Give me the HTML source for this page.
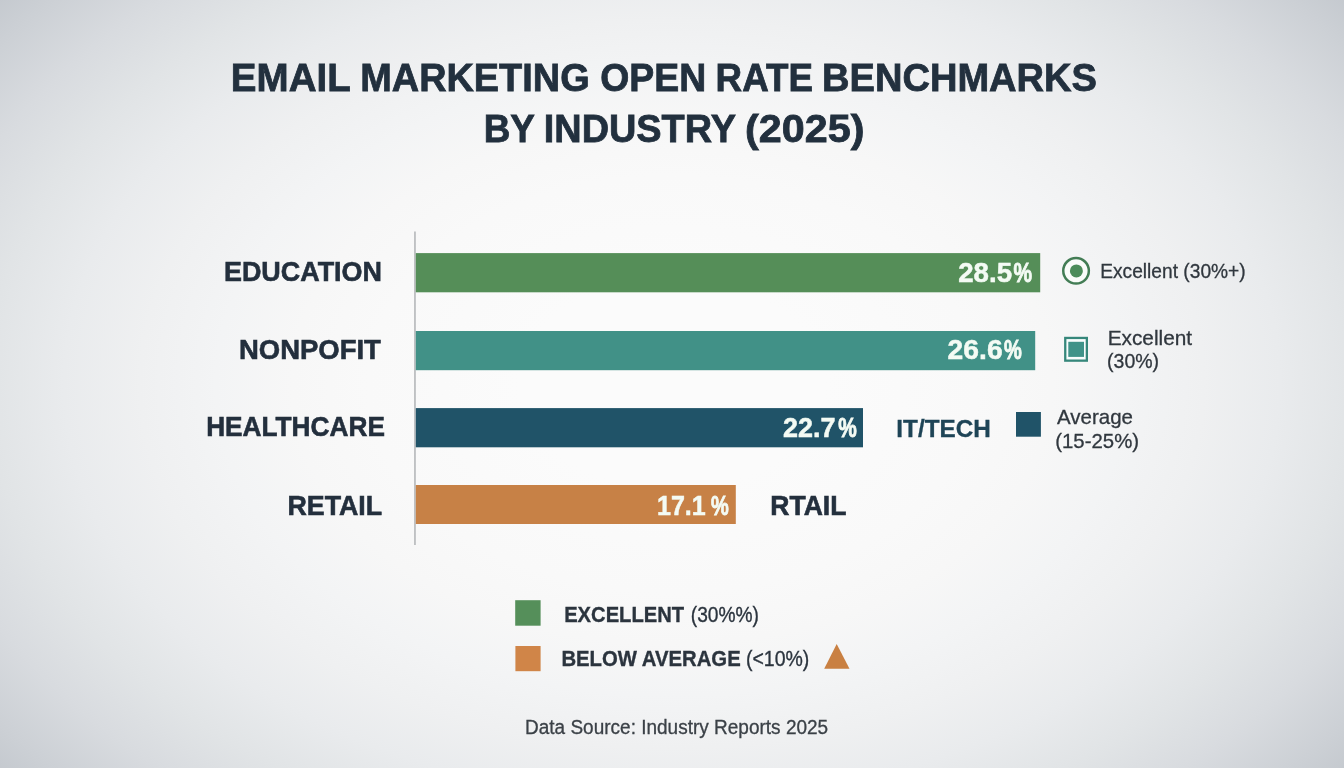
<!DOCTYPE html>
<html lang="en">
<head>
<meta charset="utf-8">
<title>Email Marketing Open Rate Benchmarks by Industry (2025)</title>
<style>
  html, body { margin: 0; padding: 0; }
  body {
    width: 1344px; height: 768px; overflow: hidden; position: relative;
    font-family: "Liberation Sans", sans-serif;
    background: #f4f5f6;
  }
  #bg {
    position: absolute; left: 0; top: 0; width: 1344px; height: 768px;
    background:
      radial-gradient(ellipse 760px 520px at 50% 50%, rgb(251,251,251) 0%, rgb(251,251,251) 20%, rgb(250,250,250) 30%, rgb(249,249,249) 40%, rgb(247,247,247) 50%, rgb(243,244,245) 60%, rgb(239,240,241) 70%, rgb(233,235,237) 80%, rgb(225,228,230) 90%, rgb(216,219,223) 100%, rgb(204,208,213) 110%, rgb(191,196,202) 120%, rgb(174,180,189) 130%, rgb(155,163,173) 140%);
  }
  svg { position: absolute; left: 0; top: 0; will-change: transform; filter: blur(0.35px); }
  text { font-family: "Liberation Sans", sans-serif; }
  .b { font-weight: bold; }
</style>
</head>
<body>
<div id="bg"></div>


<svg width="1344" height="768" viewBox="0 0 1344 768">
  <!-- Axis + bars -->
  <rect x="414.1" y="231.5" width="1.7" height="313.5" fill="#b9bbbd"/>
  <rect x="415.8" y="253.1" width="624.4" height="39.2" fill="#558e58"/>
  <rect x="415.8" y="331" width="619.4" height="39.2" fill="#419187"/>
  <rect x="415.8" y="408.1" width="447.2" height="39.2" fill="#205368"/>
  <rect x="415.8" y="485" width="320" height="39" fill="#c78146"/>

  <!-- Title -->
  <g class="b" fill="#22303e" stroke="#22303e" stroke-width="0.8" font-size="39.5">
    <text x="230.87" y="90.7" textLength="119.93" lengthAdjust="spacingAndGlyphs">EMAIL</text>
    <text x="360.25" y="90.7" textLength="229.35" lengthAdjust="spacingAndGlyphs">MARKETING</text>
    <text x="600.26" y="90.7" textLength="105.94" lengthAdjust="spacingAndGlyphs">OPEN</text>
    <text x="715.62" y="90.7" textLength="97.37" lengthAdjust="spacingAndGlyphs">RATE</text>
    <text x="822.05" y="90.7" textLength="274.94" lengthAdjust="spacingAndGlyphs">BENCHMARKS</text>
    <text x="483.68" y="141.5" textLength="51.22" lengthAdjust="spacingAndGlyphs">BY</text>
    <text x="543.77" y="141.5" textLength="192.13" lengthAdjust="spacingAndGlyphs">INDUSTRY</text>
    <text x="745.06" y="141.5" textLength="119.37" lengthAdjust="spacingAndGlyphs">(2025)</text>
  </g>

  <!-- Category labels -->
  <g class="b" fill="#232f3d" stroke="#232f3d" stroke-width="0.6" font-size="28.3">
    <text x="223.97" y="281.2" textLength="157.96" lengthAdjust="spacingAndGlyphs">EDUCATION</text>
    <text x="238.98" y="358.5" textLength="141.87" lengthAdjust="spacingAndGlyphs">NONPOFIT</text>
    <text x="206.13" y="436.4" textLength="178.78" lengthAdjust="spacingAndGlyphs">HEALTHCARE</text>
    <text x="287.47" y="515.1" textLength="94.69" lengthAdjust="spacingAndGlyphs">RETAIL</text>
  </g>

  <!-- Values in bars -->
  <g class="b" fill="#f4fbf4" stroke="#f4fbf4" stroke-width="0.5" font-size="27">
    <text x="958.20" y="281.5" textLength="53.86" lengthAdjust="spacingAndGlyphs">28.5</text>
    <text x="1013.44" y="281.5" textLength="18.51" lengthAdjust="spacingAndGlyphs" stroke-width="0.9">%</text>
    <text x="947.64" y="358.9" textLength="55.00" lengthAdjust="spacingAndGlyphs">26.6</text>
    <text x="1004.04" y="358.9" textLength="17.80" lengthAdjust="spacingAndGlyphs" stroke-width="0.9">%</text>
    <text x="783.03" y="437.1" textLength="52.52" lengthAdjust="spacingAndGlyphs">22.7</text>
    <text x="838.23" y="437.1" textLength="18.53" lengthAdjust="spacingAndGlyphs" stroke-width="0.9">%</text>
    <text x="656.96" y="514.8" textLength="48.83" lengthAdjust="spacingAndGlyphs">17.1</text>
    <text x="710.91" y="514.8" textLength="17.75" lengthAdjust="spacingAndGlyphs" stroke-width="0.9">%</text>
  </g>

  <!-- Stray labels -->
  <text class="b" fill="#1e4456" stroke="#1e4456" stroke-width="0.3" font-size="23.6" x="896.35" y="436.5" textLength="94.51" lengthAdjust="spacingAndGlyphs">IT/TECH</text>
  <text class="b" fill="#232f3d" stroke="#232f3d" stroke-width="0.6" font-size="27.4" x="770.30" y="515" textLength="76.17" lengthAdjust="spacingAndGlyphs">RTAIL</text>

  <!-- Right-hand legend icons -->
  <circle cx="1076.05" cy="270.8" r="12.8" fill="#fafcfa" stroke="#437d55" stroke-width="2.5"/>
  <circle cx="1076.4" cy="270.9" r="6.5" fill="#4c8c5a"/>
  <rect x="1065.25" y="337.95" width="21.6" height="22.7" fill="#f8fdfd" stroke="#36877b" stroke-width="2.3"/>
  <rect x="1068.3" y="341.8" width="15.7" height="15.1" fill="#3f9389"/>
  <rect x="1016" y="412" width="24.9" height="24.7" fill="#205368"/>

  <!-- Right-hand legend text -->
  <g fill="#30373e" stroke="#30373e" stroke-width="0.3" font-size="20.4">
    <text x="1100.22" y="277.8" textLength="145.45" lengthAdjust="spacingAndGlyphs">Excellent (30%+)</text>
    <text x="1107.67" y="344.5" textLength="84.44" lengthAdjust="spacingAndGlyphs">Excellent</text>
    <text x="1107.10" y="368.3" textLength="52.01" lengthAdjust="spacingAndGlyphs">(30%)</text>
    <text x="1057.05" y="424" textLength="75.86" lengthAdjust="spacingAndGlyphs">Average</text>
    <text x="1055.27" y="447.8" textLength="83.76" lengthAdjust="spacingAndGlyphs">(15-25%)</text>
  </g>

  <!-- Bottom legend -->
  <rect x="515.2" y="600.2" width="25.4" height="25.5" fill="#558f5a"/>
  <rect x="515.4" y="646" width="25.2" height="25.2" fill="#d08548"/>
  <polygon points="836.7,643.9 849.5,668.8 824.2,668.8" fill="#c98042"/>
  <g fill="#2b343e" stroke="#2b343e" stroke-width="0.35" font-size="22.4">
    <text x="564.18" y="621.6"><tspan class="b" textLength="119.87" lengthAdjust="spacingAndGlyphs">EXCELLENT</tspan></text>
    <text x="690.76" y="621.6" textLength="68.18" lengthAdjust="spacingAndGlyphs">(30%%)</text>
    <text x="561.43" y="666.2"><tspan class="b" textLength="179.28" lengthAdjust="spacingAndGlyphs">BELOW AVERAGE</tspan></text>
    <text x="745.96" y="666.2" textLength="63.40" lengthAdjust="spacingAndGlyphs">(&lt;10%)</text>
  </g>

  <!-- Footer -->
  <text fill="#3b4147" stroke="#3b4147" stroke-width="0.3" font-size="19.4" x="525.04" y="733.6" textLength="303.12" lengthAdjust="spacingAndGlyphs">Data Source: Industry Reports 2025</text>
</svg>
</body>
</html>
